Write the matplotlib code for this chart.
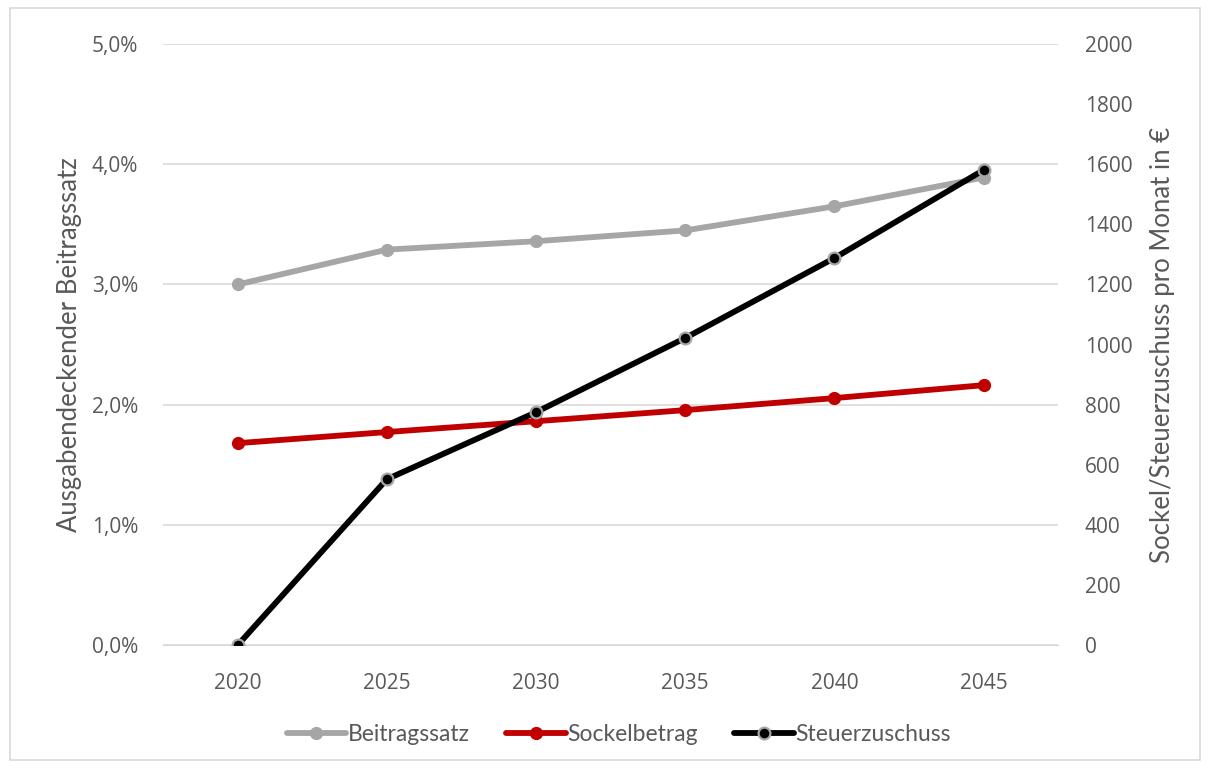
import numpy as np
import matplotlib.pyplot as plt
from matplotlib.patches import Rectangle
from matplotlib.ticker import FuncFormatter

# data
jahre = ["2020", "2025", "2030", "2035", "2040", "2045"]
beitragssatz = [3.00, 3.29, 3.36, 3.45, 3.65, 3.89]   # in %
sockelbetrag = [672, 709, 745, 782, 822, 865]          # EUR / Monat
steuerzuschuss = [0, 552, 775, 1022, 1288, 1581]       # EUR / Monat

grey = "#a6a6a6"
red = "#c00000"
txt = "#595959"

fig = plt.figure(figsize=(12.08, 7.68), dpi=100)
fig.patches.append(Rectangle((10/1208, 8/768), 1190/1208, 752/768, transform=fig.transFigure,
                             fill=False, edgecolor="#d9d9d9", lw=1.2))
ax = fig.add_axes([0.135, 0.160, 0.741, 0.7826])
ax2 = ax.twinx()

x = np.arange(len(jahre))
ax.plot(x, beitragssatz, color=grey, lw=4.2, marker="o", ms=8.5, label="Beitragssatz",
        solid_capstyle="round", zorder=3)
ax2.plot(x, sockelbetrag, color=red, lw=4.2, marker="o", ms=8.5, label="Sockelbetrag",
         solid_capstyle="round")
ax2.plot(x, steuerzuschuss, color="black", lw=4.2, marker="o", ms=8.5, mfc="black",
         mec=grey, mew=1.6, label="Steuerzuschuss", solid_capstyle="round")

ax.set_xlim(-0.5, len(jahre) - 0.5)
ax.set_ylim(0, 5)
ax2.set_ylim(0, 2000)
ax.set_yticks(np.arange(0, 5.01, 1))
ax2.set_yticks(np.arange(0, 2001, 200))
ax.set_xticks(x)
ax.set_xticklabels(jahre)
ax.yaxis.set_major_formatter(FuncFormatter(lambda v, p: ("%.1f%%" % v).replace(".", ",")))

ax.grid(axis="y", color="#d9d9d9", lw=1.2)
ax.set_axisbelow(True)
for a in (ax, ax2):
    for s in a.spines.values():
        s.set_visible(False)
    a.tick_params(length=0, colors=txt, labelsize=15, labelfontfamily="Open Sans")
ax.spines["bottom"].set_visible(True)
ax.spines["bottom"].set_color("#d9d9d9")
ax.tick_params(axis="x", pad=20)
ax.tick_params(axis="y", pad=18)
ax2.tick_params(axis="y", pad=19)

ax.set_ylabel("Ausgabendeckender Beitragssatz", color=txt, fontsize=18.5, family="Lato", labelpad=7)
ax2.set_ylabel("Sockel/Steuerzuschuss pro Monat in €", color=txt, fontsize=18.5, family="Lato", labelpad=13)

h1, lab1 = ax.get_legend_handles_labels()
h2, lab2 = ax2.get_legend_handles_labels()
fig.legend(h1 + h2, lab1 + lab2, loc="center", bbox_to_anchor=(0.512, 0.043), ncol=3, frameon=False,
           prop={"family": "Lato", "size": 16.5}, labelcolor=txt, handlelength=2.6,
           handletextpad=0.05, columnspacing=1.6)

fig.savefig("out.png", dpi=100)
